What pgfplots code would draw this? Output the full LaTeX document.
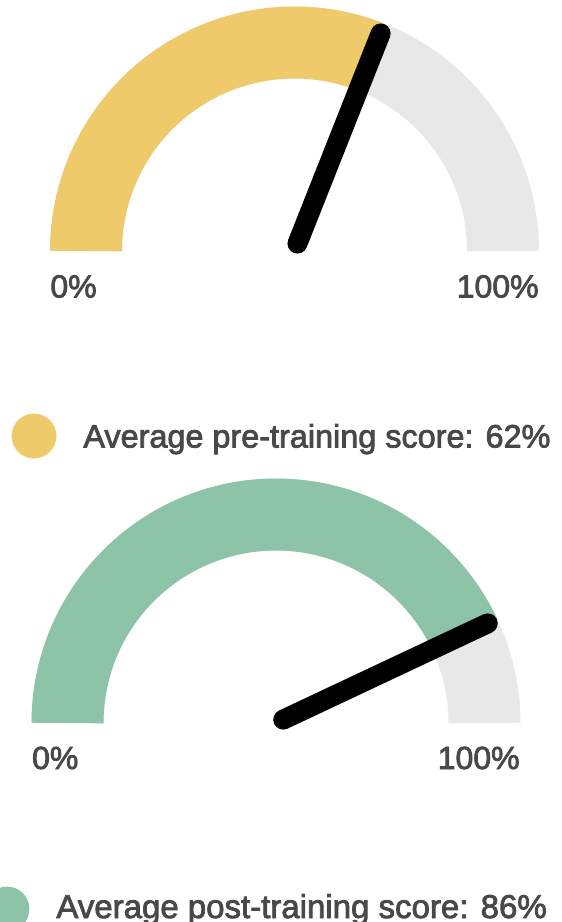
\documentclass[border=0pt]{standalone}
\usepackage{fontspec}
\setmainfont{Liberation Sans}
\newfontfamily\medfont{Liberation Sans}[BoldFont={Liberation Sans}, BoldFeatures={FakeBold=2.4}]
\usepackage{pgfplots}
\pgfplotsset{compat=1.18}
\definecolor{gaugeyellow}{HTML}{EFCA6A}
\definecolor{gaugegreen}{HTML}{8DC3A7}
\definecolor{gaugegray}{HTML}{E8E8E8}
\definecolor{textgray}{HTML}{484848}
% gauge scores (percent)
\def\prescore{62}
\def\postscore{86}
\begin{document}
\begin{tikzpicture}
\begin{axis}[
  x=0.5pt, y=0.5pt, y dir=reverse,
  xmin=0, xmax=562, ymin=0, ymax=922,
  hide axis, clip=false,
]
\coordinate (sw) at (axis cs:0,922);
\coordinate (ne) at (axis cs:562,0);
% ---- top gauge (pre-training) ----
\addplot[draw=gaugegray, line width=36pt, line cap=butt, domain=0:180, samples=181]
  ({294.5+208.5*cos(x)}, {251-208.5*sin(x)});
\addplot[draw=gaugeyellow, line width=36pt, line cap=butt, domain={180-1.8*\prescore}:180, samples=150]
  ({294.5+208.5*cos(x)}, {251-208.5*sin(x)});
\addplot[draw=black, line width=10pt, line cap=round, domain=8:234, samples=2]
  ({294.5+x*cos(180-1.8*\prescore)}, {251-x*sin(180-1.8*\prescore)});
% ---- bottom gauge (post-training) ----
\addplot[draw=gaugegray, line width=36pt, line cap=butt, domain=0:180, samples=181]
  ({276+208.5*cos(x)}, {723-208.5*sin(x)});
\addplot[draw=gaugegreen, line width=36pt, line cap=butt, domain={180-1.8*\postscore}:180, samples=150]
  ({276+208.5*cos(x)}, {723-208.5*sin(x)});
\addplot[draw=black, line width=10pt, line cap=round, domain=8:234, samples=2]
  ({276+x*cos(180-1.8*\postscore)}, {723-x*sin(180-1.8*\postscore)});
% ---- legend markers ----
\addplot[only marks, mark=*, mark size=11pt, color=gaugeyellow, mark options={draw=none}] coordinates {(34,436)};
\addplot[only marks, mark=*, mark size=11pt, color=gaugegreen, mark options={draw=none}] coordinates {(7,909)};
% ---- labels ----
\node[anchor=base west, inner sep=0pt, text=textgray, font=\medfont\bfseries\fontsize{16}{19}\selectfont] at (axis cs:50,297.5) {0\%};
\node[anchor=base east, inner sep=0pt, text=textgray, font=\medfont\bfseries\fontsize{16}{19}\selectfont] at (axis cs:539,297.5) {100\%};
\node[anchor=base west, inner sep=0pt, text=textgray, font=\medfont\bfseries\fontsize{16}{19}\selectfont] at (axis cs:31.7,769) {0\%};
\node[anchor=base east, inner sep=0pt, text=textgray, font=\medfont\bfseries\fontsize{16}{19}\selectfont] at (axis cs:520,769) {100\%};
\node[anchor=base west, inner sep=0pt, text=textgray, font=\medfont\bfseries\fontsize{16.2}{19}\selectfont] at (axis cs:83,447.5) {Average pre-training score: 62\%};
\node[anchor=base west, inner sep=0pt, text=textgray, font=\medfont\bfseries\fontsize{16.5}{19}\selectfont] at (axis cs:56,918) {Average post-training score: 86\%};
\end{axis}
\pgfresetboundingbox
\path[use as bounding box] (sw) rectangle (ne);
\end{tikzpicture}
\end{document}
